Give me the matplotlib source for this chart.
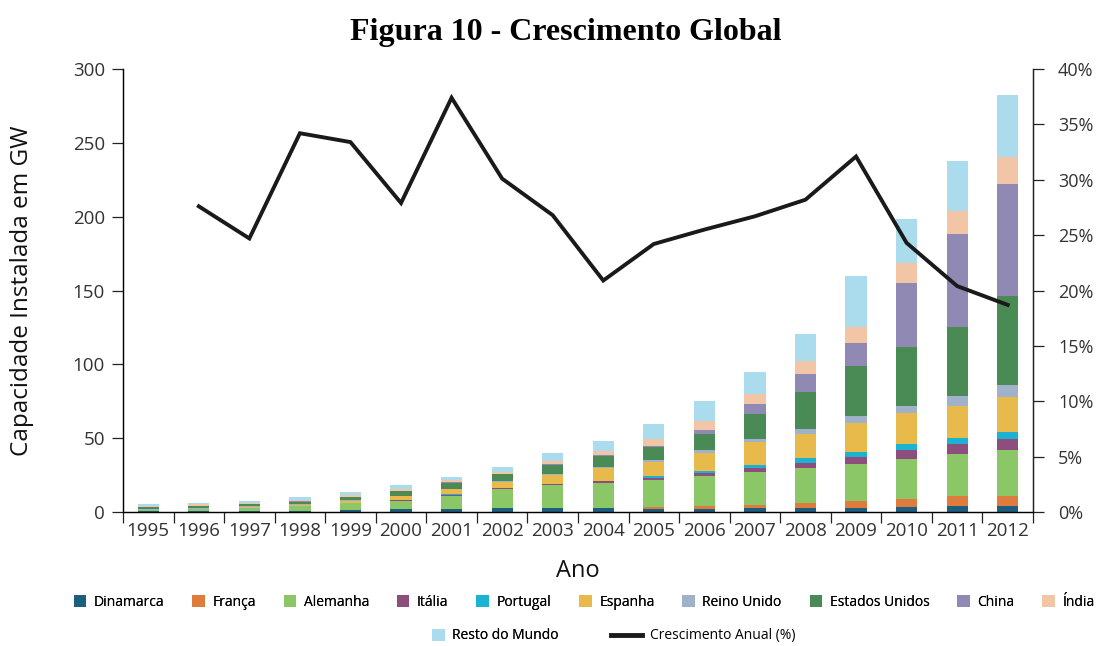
import numpy as np
import matplotlib
matplotlib.use('Agg')
import matplotlib.pyplot as plt
from matplotlib.lines import Line2D
from matplotlib.patches import Patch

plt.rcParams['font.family'] = ['Open Sans', 'DejaVu Sans']

anos = [str(a) for a in range(1995, 2013)]

#capacidade instalada (GW) por pais, 1995..2012
dinamarca = [0.4, 0.6, 0.8, 1.0, 1.7, 1.8, 2.2, 2.5, 2.5, 2.4, 2.3, 2.3, 2.4, 2.5, 2.5, 3.4, 3.8, 3.8]
franca = [0, 0, 0, 0, 0, 0.1, 0.1, 0.1, 0.2, 0.3, 0.8, 1.5, 2.5, 3.6, 5.0, 5.6, 6.8, 6.8]
alemanha = [1.1, 1.5, 2.1, 2.9, 4.1, 5.9, 8.8, 12.8, 15.6, 16.9, 18.4, 20.6, 22.2, 23.7, 25.3, 26.9, 28.4, 31.6]
italia = [0, 0, 0.1, 0.2, 0.2, 0.4, 0.7, 0.6, 0.6, 1.1, 1.7, 2.1, 2.7, 3.5, 4.5, 6.3, 7.2, 7.4]
portugal = [0, 0, 0, 0, 0.1, 0.1, 0.1, 0.2, 0.2, 0.3, 1.0, 1.6, 2.2, 3.0, 3.4, 4.1, 4.1, 4.5]
espanha = [0.1, 0.2, 0.5, 0.8, 1.5, 2.4, 3.4, 4.3, 5.9, 9.0, 9.5, 11.8, 15.1, 16.3, 19.9, 20.8, 21.4, 23.7]
reino_unido = [0.2, 0.3, 0.3, 0.3, 0.3, 0.4, 0.5, 0.5, 0.6, 0.8, 1.5, 1.8, 2.5, 3.6, 4.1, 4.7, 7.2, 7.9]
eua = [1.6, 1.6, 1.6, 1.9, 2.0, 2.8, 3.9, 4.5, 6.4, 6.9, 8.8, 11.4, 16.5, 24.8, 34.3, 40.0, 46.7, 60.5]
china = [0, 0.1, 0.1, 0.2, 0.2, 0.3, 0.4, 0.4, 0.5, 0.7, 1.0, 2.4, 7.0, 12.2, 15.6, 43.6, 62.7, 76.0]
india = [0.5, 0.8, 0.9, 1.0, 1.1, 1.3, 1.4, 0.9, 1.8, 2.8, 4.4, 6.0, 7.0, 9.0, 10.8, 13.3, 15.8, 18.5]
resto = [1.2, 1.3, 1.3, 1.8, 2.3, 2.5, 2.0, 3.9, 5.4, 7.1, 10.0, 13.5, 14.4, 18.6, 34.2, 29.6, 33.6, 42.0]

#crescimento anual (%)
crescimento = [np.nan, 27.6, 24.7, 34.2, 33.4, 27.9, 37.4, 30.1, 26.8, 20.9, 24.2,
               25.5, 26.7, 28.2, 32.1, 24.3, 20.4, 18.7]

series = [('Dinamarca', dinamarca, '#1d5d80'),
          ('França', franca, '#e07b3e'),
          ('Alemanha', alemanha, '#8cc767'),
          ('Itália', italia, '#8d4e7e'),
          ('Portugal', portugal, '#1cb2d2'),
          ('Espanha', espanha, '#e8b94b'),
          ('Reino Unido', reino_unido, '#9fb2c9'),
          ('Estados Unidos', eua, '#4a8a55'),
          ('China', china, '#8f89b4'),
          ('Índia', india, '#f2c5a7'),
          ('Resto do Mundo', resto, '#abdcee')]

txtcol = '#333333'
fig = plt.figure(figsize=(10.96, 6.46), dpi=100)
ax = fig.add_axes([0.1122, 0.2074, 0.8303, 0.6858])
x = np.arange(len(anos))
bottom = np.zeros(len(anos))
for name, vals, col in series:
    v = np.array(vals)
    ax.bar(x, v, 0.42, bottom=bottom, color=col, label=name, linewidth=0)
    bottom += v

ax.set_xlim(-0.5, len(anos) - 0.5)
ax.set_ylim(0, 300)
ax.set_yticks(range(0, 301, 50))
ax.set_xticks(x)
ax.set_xticklabels(anos)
ax.set_xticks(np.arange(-0.5, len(anos), 1.0), minor=True)
ax.tick_params(axis='x', which='major', length=0, pad=7, labelsize=13.5, labelcolor=txtcol)
ax.tick_params(axis='x', which='minor', length=8, width=0.9, color='#222222')
ax.tick_params(axis='y', length=8, width=0.9, color='#222222', labelsize=13.5, labelcolor=txtcol, pad=5)
ax.spines['top'].set_visible(False)
for s in ('left', 'bottom', 'right'):
    ax.spines[s].set_color('#222222')
    ax.spines[s].set_linewidth(1.0)
ax.set_ylabel('Capacidade Instalada em GW', fontsize=17.5, color='#111111', labelpad=28)
ax.set_xlabel('Ano', fontsize=17, color='#111111', labelpad=14)

ax2 = ax.twinx()
ax2.plot(x, crescimento, color='#1a1a1a', linewidth=2.8, solid_joinstyle='miter')
ax2.set_ylim(0, 40)
ax2.set_yticks(range(0, 41, 5))
ax2.set_yticklabels(['%d%%' % t for t in range(0, 41, 5)])
ax2.tick_params(axis='y', length=8, width=0.9, color='#222222', labelsize=13, labelcolor=txtcol, pad=10)
ax2.spines['top'].set_visible(False)
ax2.spines['right'].set_color('#222222')

fig.suptitle('Figura 10 - Crescimento Global', x=0.516, y=0.972, fontsize=23,
             fontweight='bold', family='Liberation Serif')

#legenda em duas linhas
handles = [Patch(facecolor=c, edgecolor='none') for _, _, c in series[:10]]
labels = [n for n, _, _ in series[:10]]
leg1 = fig.legend(handles, labels, ncol=10, loc='center', bbox_to_anchor=(0.533, 0.068),
                  frameon=False, fontsize=10, handlelength=0.9, handleheight=1.0,
                  handletextpad=0.55, columnspacing=2.0)
fig.add_artist(leg1)
leg2 = fig.legend([Patch(facecolor=series[10][2], edgecolor='none')], ['Resto do Mundo'],
                  loc='center', bbox_to_anchor=(0.452, 0.0155), frameon=False, fontsize=10,
                  handlelength=0.9, handleheight=1.0, handletextpad=0.55)
fig.add_artist(leg2)
fig.legend([Line2D([], [], color='#1a1a1a', linewidth=3.5)], ['Crescimento Anual (%)'],
           loc='center', bbox_to_anchor=(0.642, 0.0155), frameon=False, fontsize=10,
           handlelength=2.2, handletextpad=0.6)

fig.savefig('out.png', dpi=100)
